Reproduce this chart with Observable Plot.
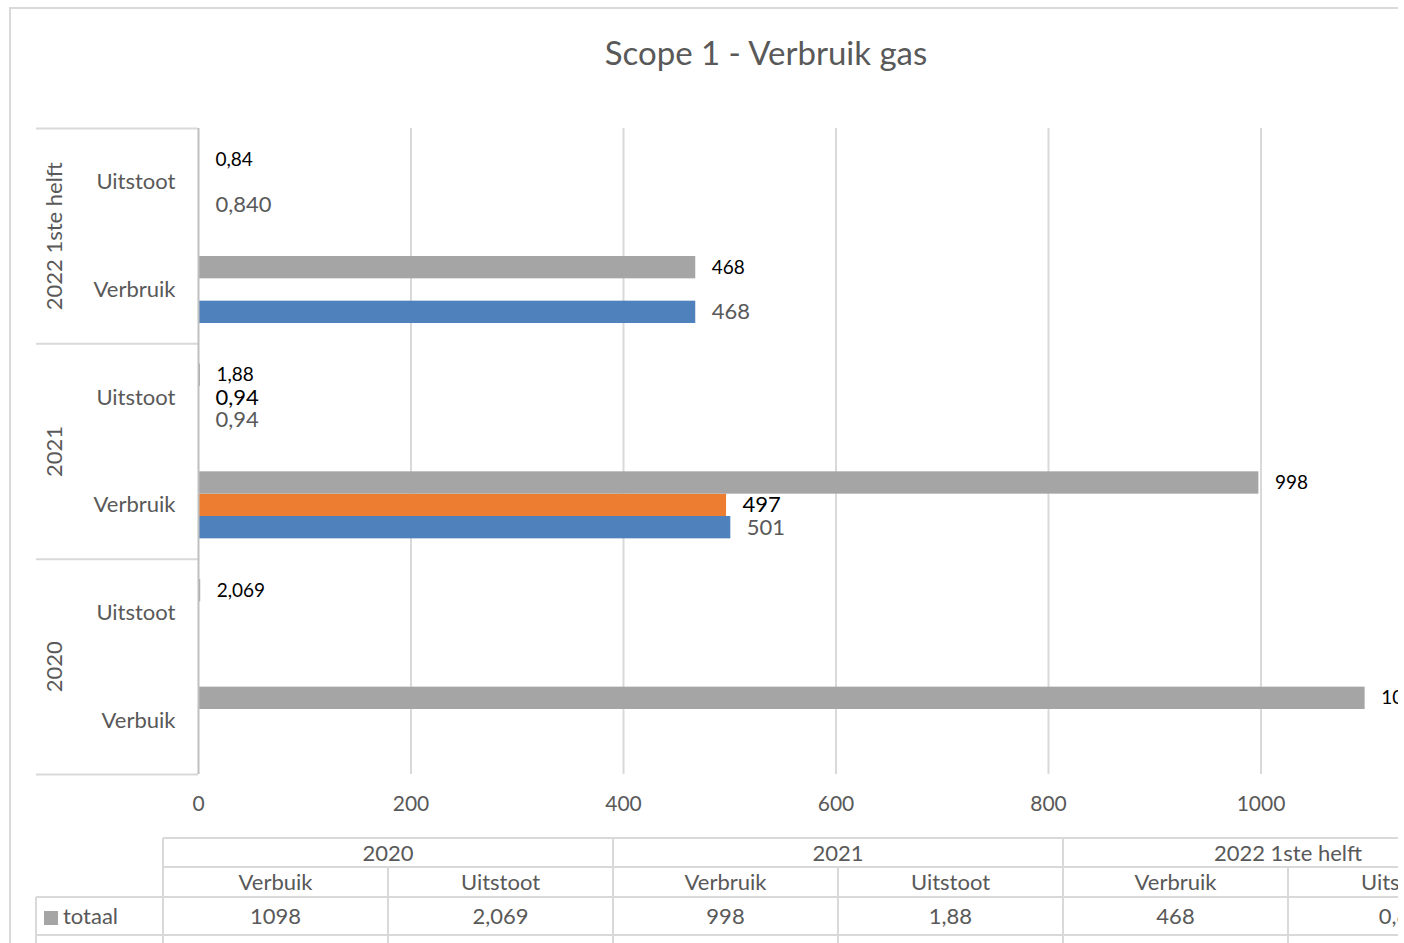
<!DOCTYPE html>
<html>
<head>
<meta charset="utf-8">
<script src="https://cdn.jsdelivr.net/npm/d3@7"></script>
<script src="https://cdn.jsdelivr.net/npm/@observablehq/plot@0.6"></script>
<style>
  html, body { margin: 0; padding: 0; background: #fff; }
  #wrap { position: relative; width: 1398px; height: 943px; overflow: hidden;
          font-family: Lato, "Open Sans", sans-serif; color: #595959; }
  #border { position: absolute; left: 9px; top: 7px; width: 1500px; height: 1000px;
            border-top: 2px solid #d9d9d9; border-left: 2px solid #d9d9d9; box-sizing: border-box; }
  #title { position: absolute; left: 0; width: 1532px; top: 29px; text-align: center;
           font-size: 33px; line-height: 46px; color: #595959; }
  #chart { position: absolute; left: 0; top: 0; width: 1404px; }
  #chart svg { max-width: none !important; }
  #chart svg g[aria-label^="y-axis"] { color: #d9d9d9; }
  #chart svg g[aria-label^="y-axis"] line, #chart svg g[aria-label^="y-axis"] path { stroke-width: 2px; }
  .hl, .vl { position: absolute; background: #d9d9d9; }
  .cell { position: absolute; text-align: center; font-size: 22px; color: #595959; white-space: nowrap; }
</style>
</head>
<body>
<div id="wrap">
  <div id="border"></div>
  <div id="title">Scope 1 - Verbruik gas</div>
  <div id="chart"></div>
  <div id="table"></div>
</div>
<script>
// ---------- data ----------
const groups = ["2020", "2021", "2022 1ste helft"];
// categories, bottom to top on the chart (= left to right in the data table)
const categories = ["Verbuik", "Uitstoot", "Verbruik", "Uitstoot", "Verbruik", "Uitstoot"];
const categoryGroup = [0, 0, 1, 1, 2, 2];

const seriesNames = ["reeks 1", "reeks 2", "totaal"];
const seriesColors = ["#4f81bd", "#ed7d31", "#a5a5a5"];

const reeks1 = [null, null, 501, 0.94, 468, 0.840];
const reeks1Labels = [null, null, "501", "0,94", "468", "0,840"];
const reeks2 = [null, null, 497, 0.94, null, null];
const reeks2Labels = [null, null, "497", "0,94", null, null];
const totaal = [1098, 2.069, 998, 1.88, 468, 0.84];
const totaalLabels = ["1098", "2,069", "998", "1,88", "468", "0,84"];

const xTicks = [0, 200, 400, 600, 800, 1000, 1200];

// ---------- build table ----------
const gapWidth = 1.82;                 // Excel gap width (style)
const barH = 1 / (seriesNames.length + gapWidth);
const seriesValues = [reeks1, reeks2, totaal];
const seriesLabels = [reeks1Labels, reeks2Labels, totaalLabels];
const rows = [];
seriesNames.forEach((s, k) => {
  seriesValues[k].forEach((v, i) => {
    if (v == null) return;
    const y1 = i + 0.5 + (k - seriesNames.length / 2) * barH;
    rows.push({series: s, k, cat: i, value: v, label: seriesLabels[k][i], y1, y2: y1 + barH, yc: y1 + barH / 2});
  });
});

const labelStyle = [
  {fill: "#595959", fontSize: 22},
  {fill: "#000000", fontSize: 22},
  {fill: "#000000", fontSize: 19}
];

const nCat = categories.length;
const plot = Plot.plot({
  width: 1404,
  height: 830,
  marginTop: 128,
  marginBottom: 56,
  marginLeft: 198,
  marginRight: 6,
  style: {fontFamily: "Lato, 'Open Sans', sans-serif", fontSize: "21px", color: "#595959", background: "transparent", overflow: "visible", maxWidth: "none"},
  x: {domain: [0, 1200], range: [198, 1473], ticks: xTicks, tickSize: 0, tickPadding: 22, tickFormat: d => String(d), label: null},
  y: {domain: [0, nCat], ticks: d3.range(0, nCat + 1, 2), tickSize: 162, tickPadding: 0, tickFormat: () => "", label: null},
  color: {domain: seriesNames, range: seriesColors},
  marks: [
    Plot.ruleX(xTicks.filter(d => d > 0), {stroke: "#d9d9d9", strokeWidth: 2}),
    Plot.rect(rows, {x1: 0, x2: "value", y1: "y1", y2: "y2", fill: "series"}),
    Plot.ruleX([0], {stroke: "#bfbfbf", strokeWidth: 2}),
    ...seriesNames.map((s, k) => Plot.text(rows.filter(r => r.k === k), {
      x: "value", y: "yc", text: "label", dx: 16, textAnchor: "start",
      fill: labelStyle[k].fill, fontSize: labelStyle[k].fontSize
    })),
    Plot.text(categories, {
      y: (d, i) => i + 0.5, text: d => d, frameAnchor: "left", dx: -23, textAnchor: "end",
      fill: "#595959", fontSize: 22
    }),
    Plot.text(groups, {
      y: (d, g) => 2 * g + 1, text: d => d, frameAnchor: "left", dx: -144, rotate: -90,
      textAnchor: "middle", fill: "#595959", fontSize: 22
    })
  ]
});
document.getElementById("chart").appendChild(plot);

// ---------- data table below the chart ----------
const table = document.getElementById("table");
const colX0 = 163, colW = 225, rowY = [838, 867, 897, 935], tableRight = 1600, tableBottom = 943;
function hl(x, y, w) { const e = document.createElement("div"); e.className = "hl";
  Object.assign(e.style, {left: x + "px", top: (y - 1) + "px", width: w + "px", height: "2px"}); table.appendChild(e); }
function vl(x, y, h) { const e = document.createElement("div"); e.className = "vl";
  Object.assign(e.style, {left: (x - 1) + "px", top: y + "px", width: "2px", height: h + "px"}); table.appendChild(e); }
function cell(text, x, y, w, h) { const e = document.createElement("div"); e.className = "cell";
  Object.assign(e.style, {left: x + "px", top: y + "px", width: w + "px", height: h + "px", lineHeight: h + "px"});
  e.textContent = text; table.appendChild(e); return e; }

hl(colX0, rowY[0], tableRight - colX0);
hl(colX0, rowY[1], tableRight - colX0);
hl(36, rowY[2], tableRight - 36);
hl(36, rowY[3], tableRight - 36);
vl(36, rowY[2], tableBottom - rowY[2]);
vl(colX0, rowY[0], tableBottom - rowY[0]);
groups.forEach((g, gi) => {
  const gx = colX0 + gi * 2 * colW;
  if (gi > 0) vl(gx, rowY[0], tableBottom - rowY[0]);
  vl(gx + colW, rowY[1], tableBottom - rowY[1]);
  cell(g, gx, rowY[0], 2 * colW, rowY[1] - rowY[0]);
});
vl(colX0 + groups.length * 2 * colW, rowY[0], tableBottom - rowY[0]);
categories.forEach((c, i) => {
  const cx = colX0 + i * colW;
  cell(c, cx, rowY[1], colW, rowY[2] - rowY[1]);
  cell(totaalLabels[i], cx, rowY[2], colW, rowY[3] - rowY[2]);
});
// legend key of the totaal row
const key = cell("", 36, rowY[2], colX0 - 36, rowY[3] - rowY[2]);
key.style.textAlign = "left";
key.innerHTML = '<span style="display:inline-block;width:14px;height:14px;background:' + seriesColors[2] +
  ';margin:0 5px 0 8px;vertical-align:-1px"></span>' + seriesNames[2];
</script>
</body>
</html>
